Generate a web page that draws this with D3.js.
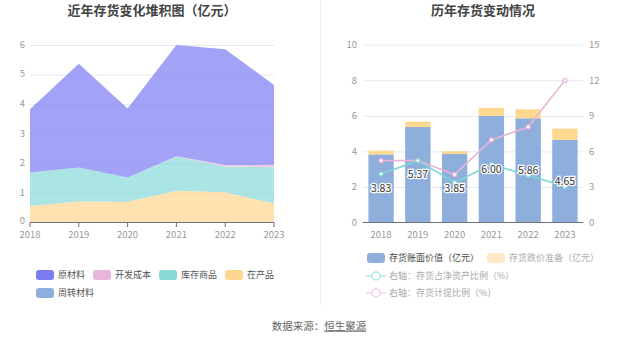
<!DOCTYPE html>
<html><head><meta charset="utf-8">
<script src="https://cdn.jsdelivr.net/npm/d3@7/dist/d3.min.js"></script>
<style>
body{margin:0;background:#fff;}
svg{font-family:"Noto Sans CJK SC","Noto Sans",sans-serif;}
</style></head>
<body><svg id="c" width="637" height="344"></svg>
<script>
const years = ["2018","2019","2020","2021","2022","2023"];
// left stacked area (亿元)
const zhouzhuan = [0,0,0,0,0,0];            // 周转材料
const zaichanpin = [0.56,0.71,0.70,1.07,1.02,0.64]; // 在产品
const kucun = [1.13,1.15,0.82,1.15,0.87,1.23];     // 库存商品
const kaifa = [0,0,0,0.02,0.05,0.08];              // 开发成本
const yuancailiao = [2.14,3.51,2.33,3.76,3.92,2.70]; // 原材料
const leftTicks = [0,1,2,3,4,5,6];
// right chart
const bookValue = [3.83,5.37,3.85,6.00,5.86,4.65];
const reserve = [0.21,0.30,0.16,0.45,0.51,0.63];
const netAssetRatio = [4.10,5.22,3.37,4.89,3.99,3.03];
const provisionRatio = [5.22,5.22,4.04,6.97,8.06,11.99];
const rightLeftTicks = [0,2,4,6,8,10];
const rightRightTicks = [0,3,6,9,12,15];

const svg = d3.select("#c");
const axisCol = "#999";
const gridCol = "#e6e8f4";

// divider
svg.append("line").attr("x1",320.5).attr("x2",320.5).attr("y1",0).attr("y2",305).attr("stroke","#eeeeee");

// titles
svg.append("text").attr("x",152).attr("y",15).attr("text-anchor","middle").attr("font-size",13).attr("font-weight","bold").attr("fill","#444").text("近年存货变化堆积图（亿元）");
svg.append("text").attr("x",483).attr("y",15).attr("text-anchor","middle").attr("font-size",13).attr("font-weight","bold").attr("fill","#444").text("历年存货变动情况");

// ---------- left chart ----------
const xL = d3.scalePoint().domain(years).range([30,274]);
const yL = d3.scaleLinear().domain([0,6]).range([222.5,45]);
const gL = svg.append("g");
leftTicks.forEach(t=>{
  if(t>0) gL.append("line").attr("x1",30).attr("x2",274).attr("y1",yL(t)+0.5).attr("y2",yL(t)+0.5).attr("stroke",gridCol);
  gL.append("text").attr("x",25).attr("y",yL(t)-(t===0?2:0.5)).attr("dy","0.35em").attr("text-anchor","end").attr("font-size",9.5).attr("fill",axisCol).text(t);
});
const keys = ["周转材料","在产品","库存商品","开发成本","原材料"];
const seriesMap = {"周转材料":zhouzhuan,"在产品":zaichanpin,"库存商品":kucun,"开发成本":kaifa,"原材料":yuancailiao};
const colors = {"原材料":"#7a7cf2","开发成本":"#e8b6d8","库存商品":"#88d8d8","在产品":"#ffd68f","周转材料":"#8eaedc"};
const rows = years.map((y,i)=>{const o={year:y}; keys.forEach(k=>o[k]=seriesMap[k][i]); return o;});
const stacked = d3.stack().keys(keys)(rows);
const area = d3.area().x(d=>xL(d.data.year)).y0(d=>yL(d[0])).y1(d=>yL(d[1]));
stacked.forEach(s=>{
  gL.append("path").attr("d",area(s)).attr("fill",colors[s.key]).attr("fill-opacity",0.7);
});
gL.append("line").attr("x1",30).attr("x2",274).attr("y1",222.5).attr("y2",222.5).attr("stroke","#6e7079");
years.forEach(y=>{
  gL.append("line").attr("x1",xL(y)).attr("x2",xL(y)).attr("y1",222.5).attr("y2",227).attr("stroke","#6e7079");
  gL.append("text").attr("x",xL(y)).attr("y",234.5).attr("dy","0.35em").attr("text-anchor","middle").attr("font-size",9.5).attr("fill",axisCol).text(y);
});
// left legend
const legL = [["原材料",36,275],["开发成本",93,275],["库存商品",159,275],["在产品",225,275],["周转材料",36,293]];
legL.forEach(([k,x,y])=>{
  svg.append("rect").attr("x",x).attr("y",y-5).attr("width",18).attr("height",10).attr("rx",3).attr("fill",colors[k]);
  svg.append("text").attr("x",x+22).attr("y",y).attr("dy","0.35em").attr("font-size",9).attr("fill","#555").text(k);
});

// ---------- right chart ----------
const xR = d3.scaleBand().domain(years).range([362.7,583.3]);
const yRL = d3.scaleLinear().domain([0,10]).range([222.5,44.7]);
const yRR = d3.scaleLinear().domain([0,15]).range([222.5,44.7]);
const gR = svg.append("g");
rightLeftTicks.forEach((t,i)=>{
  if(t>0) gR.append("line").attr("x1",362.7).attr("x2",583.3).attr("y1",yRL(t)+0.5).attr("y2",yRL(t)+0.5).attr("stroke",gridCol);
  gR.append("text").attr("x",357).attr("y",yRL(t)).attr("dy","0.35em").attr("text-anchor","end").attr("font-size",9.5).attr("fill",axisCol).text(t);
  gR.append("text").attr("x",589).attr("y",yRR(rightRightTicks[i])).attr("dy","0.35em").attr("text-anchor","start").attr("font-size",9.5).attr("fill",axisCol).text(rightRightTicks[i]);
});
const bw = xR.bandwidth()*0.69;
const bx = y=>xR(y)+(xR.bandwidth()-bw)/2;
years.forEach((y,i)=>{
  gR.append("rect").attr("x",bx(y)).attr("width",bw).attr("y",yRL(bookValue[i])).attr("height",yRL(0)-yRL(bookValue[i])).attr("fill","#8eaedc");
  gR.append("rect").attr("x",bx(y)).attr("width",bw).attr("y",yRL(bookValue[i]+reserve[i])).attr("height",yRL(bookValue[i])-yRL(bookValue[i]+reserve[i])).attr("fill","#ffd88f");
});
gR.append("line").attr("x1",362.7).attr("x2",583.3).attr("y1",222.5).attr("y2",222.5).attr("stroke","#6e7079");
years.forEach(y=>{
  gR.append("text").attr("x",xR(y)+xR.bandwidth()/2).attr("y",234.5).attr("dy","0.35em").attr("text-anchor","middle").attr("font-size",9.5).attr("fill",axisCol).text(y);
});
const cx = y=>xR(y)+xR.bandwidth()/2;
function drawLine(vals,col){
  const line = d3.line().x((d,i)=>cx(years[i])).y(d=>yRR(d));
  gR.append("path").attr("d",line(vals)).attr("fill","none").attr("stroke",col).attr("stroke-width",1.6);
  vals.forEach((v,i)=>{
    gR.append("circle").attr("cx",cx(years[i])).attr("cy",yRR(v)).attr("r",2).attr("fill","#fff").attr("stroke",col).attr("stroke-width",1.2);
  });
}
drawLine(provisionRatio,"#e8b4d8");
drawLine(netAssetRatio,"#7dd6d4");
// bar labels
years.forEach((y,i)=>{
  gR.append("text").attr("x",cx(y)).attr("y",yRL(bookValue[i]/2)).attr("dy","0.35em").attr("text-anchor","middle")
    .attr("font-size",10.5).attr("fill","#333").attr("stroke","#fff").attr("stroke-width",2.5).attr("paint-order","stroke")
    .text(bookValue[i].toFixed(2));
});
// right legend
svg.append("rect").attr("x",367).attr("y",253).attr("width",18).attr("height",10).attr("rx",3).attr("fill","#8eaedc");
svg.append("text").attr("x",389).attr("y",258).attr("dy","0.35em").attr("font-size",9).attr("fill","#444").text("存货账面价值（亿元）");
svg.append("rect").attr("x",487).attr("y",253).attr("width",18).attr("height",10).attr("rx",3).attr("fill","#ffe9c8");
svg.append("text").attr("x",509).attr("y",258).attr("dy","0.35em").attr("font-size",9).attr("fill","#aaa").text("存货跌价准备（亿元）");
[["右轴：存货占净资产比例（%）","#b0e8e6",276],["右轴：存货计提比例（%）","#f2d2e8",293]].forEach(([t,c,y])=>{
  svg.append("line").attr("x1",366).attr("x2",386).attr("y1",y).attr("y2",y).attr("stroke",c).attr("stroke-width",1.5);
  svg.append("circle").attr("cx",376).attr("cy",y).attr("r",4).attr("fill","#fff").attr("stroke",c).attr("stroke-width",1.5);
  svg.append("text").attr("x",389).attr("y",y).attr("dy","0.35em").attr("font-size",9).attr("fill","#aaa").text(t);
});

// source
const src = svg.append("text").attr("x",319).attr("y",326).attr("dy","0.35em").attr("text-anchor","middle").attr("font-size",10.5).attr("fill","#666");
src.append("tspan").text("数据来源：");
src.append("tspan").attr("text-decoration","underline").text("恒生聚源");
</script></body></html>
